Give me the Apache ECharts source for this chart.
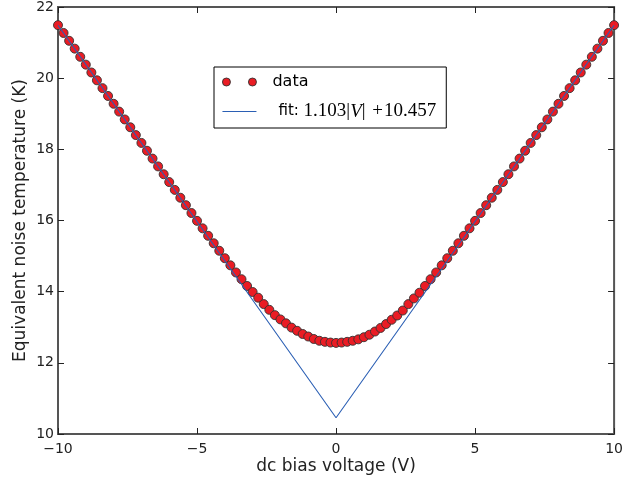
<!DOCTYPE html>
<html>
<head>
<meta charset="utf-8">
<script src="https://cdn.jsdelivr.net/npm/echarts@6/dist/echarts.min.js"></script>
<style>
html,body{margin:0;padding:0;background:#fff;}
#chart{width:626px;height:482px;}
</style>
</head>
<body>
<div id="chart"></div>
<script>
// dc bias voltage (V)
const voltages = [
 -10.0,-9.8,-9.6,-9.4,-9.2,-9.0,-8.8,-8.6,-8.4,-8.2,
 -8.0,-7.8,-7.6,-7.4,-7.2,-7.0,-6.8,-6.6,-6.4,-6.2,
 -6.0,-5.8,-5.6,-5.4,-5.2,-5.0,-4.8,-4.6,-4.4,-4.2,
 -4.0,-3.8,-3.6,-3.4,-3.2,-3.0,-2.8,-2.6,-2.4,-2.2,
 -2.0,-1.8,-1.6,-1.4,-1.2,-1.0,-0.8,-0.6,-0.4,-0.2,
 0.0,
 0.2,0.4,0.6,0.8,1.0,1.2,1.4,1.6,1.8,2.0,
 2.2,2.4,2.6,2.8,3.0,3.2,3.4,3.6,3.8,4.0,
 4.2,4.4,4.6,4.8,5.0,5.2,5.4,5.6,5.8,6.0,
 6.2,6.4,6.6,6.8,7.0,7.2,7.4,7.6,7.8,8.0,
 8.2,8.4,8.6,8.8,9.0,9.2,9.4,9.6,9.8,10.0
];
// equivalent noise temperature (K)
const temperatures = [
 21.49,21.27,21.05,20.83,20.60,20.38,20.16,19.94,19.72,19.50,
 19.28,19.06,18.84,18.62,18.40,18.18,17.96,17.74,17.52,17.30,
 17.08,16.86,16.64,16.43,16.21,15.99,15.78,15.57,15.36,15.15,
 14.94,14.74,14.54,14.35,14.16,13.99,13.83,13.65,13.49,13.34,
 13.22,13.11,12.99,12.90,12.81,12.74,12.67,12.62,12.59,12.57,
 12.56,
 12.57,12.59,12.62,12.66,12.72,12.79,12.88,12.98,13.09,13.21,
 13.33,13.47,13.65,13.81,13.97,14.16,14.35,14.54,14.74,14.94,
 15.15,15.36,15.57,15.78,15.99,16.21,16.43,16.64,16.86,17.08,
 17.30,17.52,17.74,17.96,18.18,18.40,18.62,18.84,19.06,19.28,
 19.50,19.72,19.94,20.16,20.38,20.60,20.83,21.05,21.27,21.49
];
// fit: 1.103|V| + 10.457, evaluated at its break points
const fitVoltages = [-10, 0, 10];
const fitTemperatures = [21.487, 10.457, 21.487];

const xTicks = [-10, -5, 0, 5, 10];
const yTicks = [10, 12, 14, 16, 18, 20, 22];

const dataPts = voltages.map((v, i) => [v, temperatures[i]]);
const fitPts = fitVoltages.map((v, i) => [v, fitTemperatures[i]]);

const FONT = 'DejaVu Sans';
const minus = v => (v < 0 ? '\u2212' + Math.abs(v) : String(v));
const frame = '#555555';
const tick = {show: true, inside: true, length: 6, lineStyle: {color: '#222', width: 1}};

const chart = echarts.init(document.getElementById('chart'), null, {renderer: 'canvas'});
chart.setOption({
  animation: false,
  backgroundColor: '#ffffff',
  grid: {left: 58, right: 9, top: 4, bottom: 48, show: true, borderColor: frame, borderWidth: 2, backgroundColor: 'transparent'},
  legend: {
    orient: 'vertical', left: 214, top: 67,
    padding: [7, 10, 7, 8],
    itemWidth: 34, itemHeight: 10, itemGap: 12,
    borderColor: '#000', borderWidth: 1, backgroundColor: '#fff', borderRadius: 0,
    selectedMode: false,
    data: [
      {name: 'data', icon: 'path://M0,4a4,4 0 1,0 8,0a4,4 0 1,0 -8,0ZM26,4a4,4 0 1,0 8,0a4,4 0 1,0 -8,0Z',
        itemStyle: {color: '#ea1c24', borderColor: '#333', borderWidth: 0.9}},
      {name: 'fit', icon: 'path://M0,0H34V1.2H0Z', itemStyle: {color: '#2b5fb4', borderWidth: 0}}
    ],
    formatter: name => name === 'data' ? '{s|data}' : '{f|fit: }{m|1.103|}{i|V}{m||}{p| +}{m|10.457}',
    textStyle: {
      color: '#000',
      rich: {
        s: {fontFamily: FONT, fontSize: 16, color: '#000', padding: [0, 0, 0, 11]},
        f: {fontFamily: FONT, fontSize: 15, color: '#000', padding: [0, 0, 0, 17]},
        m: {fontFamily: 'Liberation Serif', fontSize: 19, color: '#000'},
        p: {fontFamily: 'Liberation Serif', fontSize: 19, color: '#000', padding: [0, 1, 0, 2]},
        i: {fontFamily: 'Liberation Serif', fontSize: 19, fontStyle: 'italic', color: '#000'}
      }
    }
  },
  xAxis: [{
    type: 'value', min: xTicks[0], max: xTicks[xTicks.length - 1], interval: 5, position: 'bottom',
    name: 'dc bias voltage (V)', nameLocation: 'middle', nameGap: 24, nameMoveOverlap: false,
    nameTextStyle: {fontFamily: FONT, fontSize: 17, color: '#222'},
    axisLine: {show: false, onZero: false},
    axisTick: tick,
    axisLabel: {fontFamily: FONT, fontSize: 14, color: '#222', margin: 8, formatter: minus, showMinLabel: true, showMaxLabel: true},
    splitLine: {show: false}
  }, {
    type: 'value', min: xTicks[0], max: xTicks[xTicks.length - 1], interval: 5, position: 'top',
    axisLine: {show: false, onZero: false},
    axisTick: tick,
    axisLabel: {show: false}, splitLine: {show: false}
  }],
  yAxis: [{
    type: 'value', min: yTicks[0], max: yTicks[yTicks.length - 1], interval: 2, position: 'left',
    name: 'Equivalent noise temperature (K)', nameLocation: 'middle', nameGap: 29, nameMoveOverlap: false,
    nameTextStyle: {fontFamily: FONT, fontSize: 17, color: '#222'},
    axisLine: {show: false, onZero: false},
    axisTick: tick,
    axisLabel: {fontFamily: FONT, fontSize: 14, color: '#222', margin: 4, formatter: minus, showMinLabel: true, showMaxLabel: true},
    splitLine: {show: false}
  }, {
    type: 'value', min: yTicks[0], max: yTicks[yTicks.length - 1], interval: 2, position: 'right',
    axisLine: {show: false, onZero: false},
    axisTick: tick,
    axisLabel: {show: false}, splitLine: {show: false}
  }],
  series: [{
    name: 'data', type: 'scatter', xAxisIndex: 0, yAxisIndex: 0,
    data: dataPts, symbol: 'circle', symbolSize: 9, z: 2,
    itemStyle: {color: '#ea1c24', borderColor: '#333', borderWidth: 0.9, opacity: 1}
  }, {
    name: 'fit', type: 'line', xAxisIndex: 0, yAxisIndex: 0,
    data: fitPts, showSymbol: false, symbol: 'none', z: 3,
    lineStyle: {color: '#2b5fb4', width: 1.1}, itemStyle: {color: '#2b5fb4'}
  }]
});
</script>
</body>
</html>
